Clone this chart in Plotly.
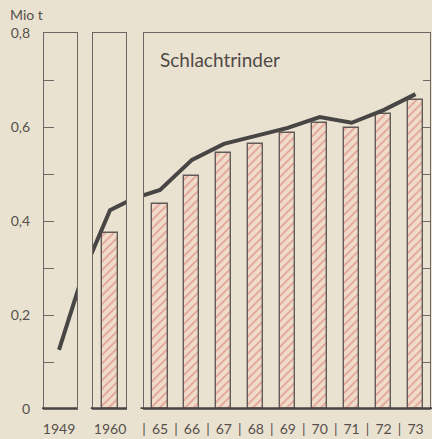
import plotly.graph_objects as go

# ---- data (Mio t) ----
year_1949 = [1949, 1950]
line_1949 = [0.126, 0.34]

year_1960_line = [1959, 1960, 1961]
line_1960 = [0.263, 0.423, 0.457]
bar_1960_year = [1960]
bar_1960 = [0.374]

years = [1965, 1966, 1967, 1968, 1969, 1970, 1971, 1972, 1973]
year_labels = ["65", "66", "67", "68", "69", "70", "71", "72", "73"]
bars = [0.436, 0.496, 0.545, 0.564, 0.587, 0.609, 0.598, 0.628, 0.657]
line_years = [1964] + years
line_vals = [0.444, 0.466, 0.530, 0.564, 0.581, 0.598, 0.621, 0.609, 0.636, 0.670]

y_ticks = [0, 0.1, 0.2, 0.3, 0.4, 0.5, 0.6, 0.7, 0.8]
y_ticktext = ["0", "", "0,2", "", "0,4", "", "0,6", "", "0,8"]

# ---- style ----
W, H = 432, 439
BG = "#eae2d0"
FRAME = "#6e6864"
DARK = "#484545"
TXT = "#55504d"
HATCH = "#d2675d"
BARBG = "#f0dccb"
FONT = "Lato, sans-serif"

def px_x(a, b):
    return [a / W, b / W]

ydom = [(H - 409) / H, (H - 33) / H]
ppy = 31.94  # px per year

fig = go.Figure()

pattern = dict(shape="/", fgcolor=HATCH, bgcolor=BARBG, size=6, solidity=0.3)
barline = dict(color="#615b58", width=1.4)

fig.add_trace(go.Scatter(x=year_1949, y=line_1949, mode="lines", xaxis="x", yaxis="y",
                         line=dict(color=DARK, width=4), showlegend=False, hoverinfo="skip"))
fig.add_trace(go.Bar(x=bar_1960_year, y=bar_1960, xaxis="x2", yaxis="y2", width=0.47,
                     marker=dict(color=BARBG, pattern=pattern, line=barline), showlegend=False))
fig.add_trace(go.Scatter(x=year_1960_line, y=line_1960, mode="lines", xaxis="x2", yaxis="y2",
                         line=dict(color=DARK, width=4), showlegend=False, hoverinfo="skip"))
fig.add_trace(go.Bar(x=years, y=bars, xaxis="x3", yaxis="y3", width=0.47,
                     marker=dict(color=BARBG, pattern=pattern, line=barline), showlegend=False))
fig.add_trace(go.Scatter(x=line_years, y=line_vals, mode="lines", xaxis="x3", yaxis="y3",
                         line=dict(color=DARK, width=4), showlegend=False, hoverinfo="skip"))

common_x = dict(showline=True, mirror=True, linecolor=FRAME, linewidth=1.3, showgrid=False,
                zeroline=False, ticks="", ticklabelstandoff=7, automargin=False,
                tickfont=dict(family=FONT, size=14, color=TXT), fixedrange=True)
common_y = dict(showline=True, mirror=True, linecolor=FRAME, linewidth=1.3, showgrid=False,
                zeroline=False, range=[0, 0.8], domain=ydom, fixedrange=True, automargin=False)

# separators and labels for the 1965-73 panel
x3_vals, x3_text = [], []
for yv, lab in zip(years, year_labels):
    x3_vals += [yv - 0.5, yv]
    x3_text += ["|", lab]

fig.update_layout(
    width=W, height=H,
    margin=dict(l=0, r=0, t=0, b=0, autoexpand=False),
    paper_bgcolor=BG, plot_bgcolor=BG,
    showlegend=False,
    xaxis=dict(common_x, domain=px_x(44, 77), anchor="y",
               range=[1949 - 15 / ppy, 1949 + 18 / ppy],
               tickvals=[1949], ticktext=["1949"]),
    xaxis2=dict(common_x, domain=px_x(93, 126), anchor="y2",
                range=[1960 - 17 / ppy, 1960 + 16 / ppy],
                tickvals=[1960], ticktext=["1960"]),
    xaxis3=dict(common_x, domain=px_x(144, 430), anchor="y3",
                range=[1965 - 16 / ppy, 1973 + 14.5 / ppy],
                tickvals=x3_vals, ticktext=x3_text),
    yaxis=dict(common_y, anchor="x", ticks="inside", ticklen=10, tickcolor=FRAME, tickwidth=1.3,
               tickvals=y_ticks, ticktext=y_ticktext, ticklabelstandoff=10,
               tickfont=dict(family=FONT, size=14, color=TXT)),
    yaxis2=dict(common_y, anchor="x2", ticks="", showticklabels=False),
    yaxis3=dict(common_y, anchor="x3", side="right", ticks="inside", ticklen=7,
                tickcolor=FRAME, tickwidth=1.3, tickvals=y_ticks, showticklabels=False),
    bargap=0,
)

# thick base lines under each panel
for xr, yr, x0, x1 in [("x domain", "y", -0.06, 1.0), ("x2 domain", "y2", -0.07, 1.03),
                       ("x3 domain", "y3", -0.012, 1.01)]:
    fig.add_shape(type="line", xref=xr, yref=yr, x0=x0, x1=x1, y0=0, y1=0,
                  line=dict(color=DARK, width=3.5))

fig.add_annotation(text="Schlachtrinder", xref="paper", yref="paper",
                   x=158 / W, y=(H - 60) / H, xanchor="left", yanchor="middle",
                   showarrow=False, font=dict(family="Lato, sans-serif", size=19, color="#4f4a47"))
fig.add_annotation(text="Mio t", xref="paper", yref="paper",
                   x=8 / W, y=(H - 15) / H, xanchor="left", yanchor="middle",
                   showarrow=False, font=dict(family=FONT, size=14, color=TXT))

fig.write_html("out.html", config={"displayModeBar": False},
               post_script="document.body.style.margin='0';document.body.style.overflow='hidden';")
